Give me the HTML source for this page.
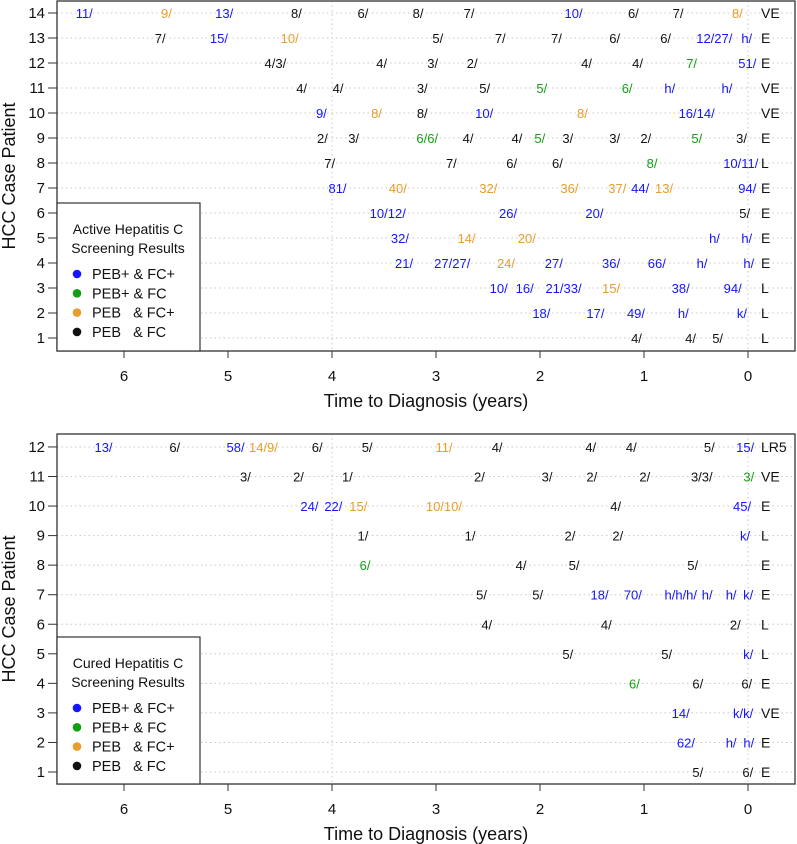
<!DOCTYPE html>
<html><head><meta charset="utf-8"><style>
body{margin:0;background:#fff}
svg{display:block;font-family:"Liberation Sans",Arial,sans-serif}
</style></head><body>
<svg id="chart" width="797" height="844" viewBox="0 0 797 844" xmlns="http://www.w3.org/2000/svg"></svg>
<script>
// x-axis ticks (years to diagnosis)
const xTicks = [6,5,4,3,2,1,0];
const colorNames = {b:'#1414ff', g:'#12a012', o:'#e89d2c', k:'#111'};
// Active panel data: per patient row (1..14), labels [years, text, category]
const activeRowCodes = ['L','L','L','E','E','E','E','L','E','VE','VE','E','E','VE'];
const activeRows = [
 [[1.02,'4/','k'],[0.50,'4/','k'],[0.24,'5/','k']],
 [[1.90,'18/','b'],[1.38,'17/','b'],[0.99,'49/','b'],[0.57,'h/','b'],[0.01,'k/','b']],
 [[2.31,'10/','b'],[2.06,'16/','b'],[1.60,'21/33/','b'],[1.23,'15/','o'],[0.56,'38/','b'],[0.06,'94/','b']],
 [[3.22,'21/','b'],[2.67,'27/27/','b'],[2.24,'24/','o'],[1.78,'27/','b'],[1.23,'36/','b'],[0.79,'66/','b'],[0.39,'h/','b'],[-0.06,'h/','b']],
 [[3.26,'32/','b'],[2.62,'14/','o'],[2.04,'20/','o'],[0.27,'h/','b'],[-0.04,'h/','b']],
 [[3.29,'10/12/','b'],[2.22,'26/','b'],[1.39,'20/','b'],[-0.02,'5/','k']],
 [[3.86,'81/','b'],[3.28,'40/','o'],[2.41,'32/','o'],[1.63,'36/','o'],[1.17,'37/','o'],[0.95,'44/','b'],[0.72,'13/','o'],[-0.08,'94/','b']],
 [[3.97,'7/','k'],[2.80,'7/','k'],[2.22,'6/','k'],[1.78,'6/','k'],[0.87,'8/','g'],[-0.10,'10/11/','b']],
 [[4.04,'2/','k'],[3.74,'3/','k'],[2.98,'6/6/','g'],[2.64,'4/','k'],[2.17,'4/','k'],[1.95,'5/','g'],[1.68,'3/','k'],[1.23,'3/','k'],[0.93,'2/','k'],[0.44,'5/','g'],[0.01,'3/','k']],
 [[4.05,'9/','b'],[3.52,'8/','o'],[3.08,'8/','k'],[2.45,'10/','b'],[1.54,'8/','o'],[0.32,'16/14/','b']],
 [[4.24,'4/','k'],[3.89,'4/','k'],[3.08,'3/','k'],[2.48,'5/','k'],[1.93,'5/','g'],[1.11,'6/','g'],[0.70,'h/','b'],[0.15,'h/','b']],
 [[4.44,'4/3/','k'],[3.47,'4/','k'],[2.98,'3/','k'],[2.60,'2/','k'],[1.50,'4/','k'],[1.01,'4/','k'],[0.49,'7/','g'],[-0.08,'51/','b']],
 [[5.60,'7/','k'],[5.00,'15/','b'],[4.32,'10/','o'],[2.93,'5/','k'],[2.33,'7/','k'],[1.79,'7/','k'],[1.23,'6/','k'],[0.74,'6/','k'],[0.15,'12/27/','b'],[-0.04,'h/','b']],
 [[6.30,'11/','b'],[5.54,'9/','o'],[4.95,'13/','b'],[4.29,'8/','k'],[3.65,'6/','k'],[3.12,'8/','k'],[2.63,'7/','k'],[1.59,'10/','b'],[1.05,'6/','k'],[0.62,'7/','k'],[0.05,'8/','o']]
];
// Cured panel data (rows 1..12)
const curedRowCodes = ['E','E','VE','E','L','L','E','E','L','E','VE','LR5'];
const curedRows = [
 [[0.43,'5/','k'],[-0.05,'6/','k']],
 [[0.51,'62/','b'],[0.11,'h/','b'],[-0.06,'h/','b']],
 [[0.56,'14/','b'],[-0.05,'k/k/','b']],
 [[1.04,'6/','g'],[0.43,'6/','k'],[-0.04,'6/','k']],
 [[1.68,'5/','k'],[0.73,'5/','k'],[-0.05,'k/','b']],
 [[2.46,'4/','k'],[1.31,'4/','k'],[0.07,'2/','k']],
 [[2.51,'5/','k'],[1.97,'5/','k'],[1.34,'18/','b'],[1.02,'70/','b'],[0.49,'h/h/h/','b'],[0.34,'h/','b'],[0.11,'h/','b'],[-0.05,'k/','b']],
 [[3.63,'6/','g'],[2.13,'4/','k'],[1.62,'5/','k'],[0.48,'5/','k']],
 [[3.65,'1/','k'],[2.62,'1/','k'],[1.66,'2/','k'],[1.20,'2/','k'],[-0.02,'k/','b']],
 [[4.13,'24/','b'],[3.90,'22/','b'],[3.66,'15/','o'],[2.75,'10/10/','o'],[1.22,'4/','k'],[-0.03,'45/','b']],
 [[4.78,'3/','k'],[4.27,'2/','k'],[3.80,'1/','k'],[2.53,'2/','k'],[1.88,'3/','k'],[1.45,'2/','k'],[0.94,'2/','k'],[0.34,'3/3/','k'],[-0.06,'3/','g']],
 [[6.11,'13/','b'],[5.46,'6/','k'],[4.84,'58/','b'],[4.52,'14/9/','o'],[4.09,'6/','k'],[3.61,'5/','k'],[2.84,'11/','o'],[2.36,'4/','k'],[1.46,'4/','k'],[1.07,'4/','k'],[0.32,'5/','k'],[-0.06,'15/','b']]
];
const legendLabels = ['PEB+ & FC+','PEB+ & FC','PEB\u00a0\u00a0 & FC+','PEB\u00a0\u00a0 & FC'];
const legendCats = ['b','g','o','k'];

const NS='http://www.w3.org/2000/svg';
const svg=document.getElementById('chart');
function mk(tag,attrs,parent){const e=document.createElementNS(NS,tag);for(const k in attrs)e.setAttribute(k,attrs[k]);(parent||svg).appendChild(e);return e;}
const L=57,R=795;
const xs=t=>748-104*t;

function panel(cfg){
  const g=mk('g',{});
  
  
  const n=cfg.rows.length;
  const ys=r=>cfg.y1-(r-1)*cfg.step;
  for(let r=1;r<=n;r++){
    const l=mk('line',{x1:L,x2:R,y1:ys(r),y2:ys(r),stroke:'#c8c8c8','stroke-dasharray':'1.5 3','stroke-width':1},g);
    
    
  }
  [4,0].forEach(v=>{
    const l=mk('line',{x1:xs(v),x2:xs(v),y1:cfg.top,y2:cfg.bot,stroke:'#c8c8c8','stroke-dasharray':'1.5 3','stroke-width':1},g);
    
    
  });
  cfg.rows.forEach((row,i)=>{
    row.forEach(d=>{
      const t=mk('text',{x:xs(d[0]),y:ys(i+1)+5,'text-anchor':'end','font-size':13,fill:colorNames[d[2]]},g);
      t.textContent=d[1];
      
      
    });
    const c=mk('text',{x:761,y:ys(i+1)+5,'font-size':14,fill:'#111'},g);
    c.textContent=cfg.codes[i];
    
    
  });
  const fr=mk('rect',{x:L,y:cfg.top,width:R-L,height:cfg.bot-cfg.top,fill:'none',stroke:'#333','stroke-width':1.3},g);
  
  
  for(let r=1;r<=n;r++){
    mk('line',{x1:48,x2:L,y1:ys(r),y2:ys(r),stroke:'#333'},g);
    const t=mk('text',{x:45,y:ys(r)+5,'text-anchor':'end','font-size':15,fill:'#111'},g);
    t.textContent=r;
    
    
  }
  xTicks.forEach(v=>{
    mk('line',{x1:xs(v),x2:xs(v),y1:cfg.bot,y2:cfg.bot+7,stroke:'#333'},g);
    const t=mk('text',{x:xs(v),y:cfg.bot+30,'text-anchor':'middle','font-size':15,fill:'#111'},g);
    t.textContent=v;
    
    
  });
  const xt=mk('text',{x:426,y:cfg.bot+56,'text-anchor':'middle','font-size':18,fill:'#111'},g);
  xt.textContent='Time to Diagnosis (years)';
  
  
  const cy=(cfg.top+cfg.bot)/2;
  const yt=mk('text',{x:0,y:0,'text-anchor':'middle','font-size':18,fill:'#111',transform:`translate(15,${cy}) rotate(-90)`},g);
  yt.textContent='HCC Case Patient';
  
  
  const lg=mk('g',{},g);
  
  
  mk('rect',{x:L,y:cfg.legTop,width:143,height:cfg.bot-cfg.legTop,fill:'#fff',stroke:'#333','stroke-width':1.2},lg);
  cfg.title.forEach((s,k)=>{
    const t=mk('text',{x:128,y:cfg.legTop+31+k*19,'text-anchor':'middle','font-size':14,fill:'#111'},lg);
    t.textContent=s;
    
    
  });
  legendLabels.forEach((s,k)=>{
    const y=cfg.legTop+71+k*19.3;
    const c=mk('circle',{cx:77,cy:y,r:4.3,fill:colorNames[legendCats[k]]},lg);
    
    
    const t=mk('text',{x:92,y:y+5,'font-size':14.5,fill:'#111'},lg);
    t.textContent=s;
    
    
  });
}
panel({name:'active-hepatitis-c-panel',rows:activeRows,codes:activeRowCodes,top:1,bot:351,y1:338,step:25,legTop:203,title:['Active Hepatitis C','Screening Results']});
panel({name:'cured-hepatitis-c-panel',rows:curedRows,codes:curedRowCodes,top:434,bot:784,y1:772,step:29.55,legTop:637,title:['Cured Hepatitis C','Screening Results']});
</script>
</body></html>
